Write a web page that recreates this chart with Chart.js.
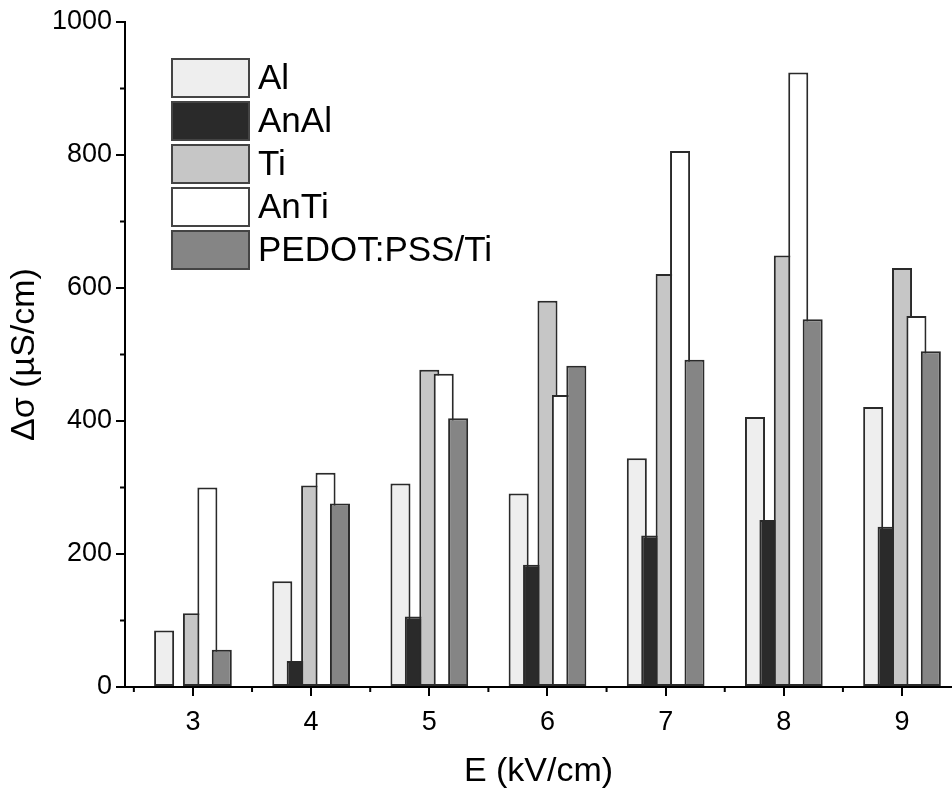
<!DOCTYPE html>
<html lang="en">
<head>
    <meta charset="UTF-8">
    <title>Conductivity change vs field</title>
    <script src="https://cdn.jsdelivr.net/npm/chart.js"></script>
    <style>
        body { margin: 0; background: #fff; }
    </style>
</head>
<body>
    <canvas id="barChart" width="952" height="792"></canvas>

    <script>
        // field strength (kV/cm) and delta sigma (uS/cm) per sample
        const fields = [3, 4, 5, 6, 7, 8, 9];
        const al     = [85, 159, 306, 291, 344, 406, 421];
        const anAl   = [null, 39, 106, 184, 228, 251, 241];
        const ti     = [111, 303, 477, 581, 621, 649, 630];
        const anTi   = [300, 322, 471, 439, 806, 924, 558];
        const pedot  = [56, 276, 404, 483, 492, 553, 505];
        const yTicks = [0, 200, 400, 600, 800, 1000];

        const FONT = '"Liberation Sans", Arial, sans-serif';
        const EDGE = '#2a2a2a';

        function series(label, vals, fill) {
            return {
                label: label,
                data: fields.map((e, i) => ({ x: e, y: vals[i] })),
                backgroundColor: fill,
                borderColor: EDGE,
                borderWidth: 2,
                borderSkipped: false,
                barPercentage: 1.39,
                categoryPercentage: 0.61
            };
        }

        // draw datasets first-to-last so later bars overlap earlier ones
        const forwardOrder = {
            id: 'forwardOrder',
            beforeDatasetsDraw(chart) {
                const ctx = chart.ctx, a = chart.chartArea;
                ctx.save();
                ctx.beginPath();
                ctx.rect(a.left, a.top - 2, a.right - a.left, a.bottom - a.top + 2);
                ctx.clip();
                chart.data.datasets.forEach((ds, i) => chart.getDatasetMeta(i).controller.draw());
                ctx.restore();
                return false;
            }
        };

        // minor ticks + legend box
        const extras = {
            id: 'extras',
            afterDraw(chart) {
                const ctx = chart.ctx;
                const xs = chart.scales.x, ys = chart.scales.y;
                ctx.save();
                ctx.strokeStyle = '#000';
                ctx.lineWidth = 2;
                ctx.beginPath();
                [fields[0] - 1].concat(fields).forEach(v => {
                    const px = xs.getPixelForValue(v + 0.5);
                    if (px > xs.right) return;
                    ctx.moveTo(px, xs.top);
                    ctx.lineTo(px, xs.top + 5);
                });
                yTicks.slice(0, -1).forEach(v => {
                    const py = ys.getPixelForValue(v + 100);
                    ctx.moveTo(ys.right, py);
                    ctx.lineTo(ys.right - 5, py);
                });
                ctx.stroke();

                // legend
                const x0 = 172, y0 = 59, bw = 77, bh = 38, step = 43;
                ctx.font = '35px ' + FONT;
                ctx.textBaseline = 'middle';
                chart.data.datasets.forEach((ds, i) => {
                    const y = y0 + i * step;
                    ctx.fillStyle = ds.backgroundColor;
                    ctx.fillRect(x0, y, bw, bh);
                    ctx.lineWidth = 2;
                    ctx.strokeStyle = '#444';
                    ctx.strokeRect(x0, y, bw, bh);
                    ctx.fillStyle = '#000';
                    ctx.fillText(ds.label, x0 + bw + 9, y + bh / 2 + 1);
                });
                ctx.restore();
            }
        };

        const ctx = document.getElementById('barChart').getContext('2d');
        const chart = new Chart(ctx, {
            type: 'bar',
            data: {
                datasets: [
                    series('Al', al, '#eeeeee'),
                    series('AnAl', anAl, '#2a2a2a'),
                    series('Ti', ti, '#c6c6c6'),
                    series('AnTi', anTi, '#ffffff'),
                    series('PEDOT:PSS/Ti', pedot, '#858585')
                ]
            },
            plugins: [forwardOrder, extras],
            options: {
                responsive: false,
                animation: false,
                devicePixelRatio: 1,
                layout: { padding: { top: 22, right: 0, left: 0, bottom: 0 } },
                plugins: {
                    legend: { display: false },
                    tooltip: { enabled: false }
                },
                scales: {
                    x: {
                        type: 'linear',
                        min: 2.425,
                        max: 9.423,
                        offset: false,
                        z: 1,
                        afterBuildTicks: s => { s.ticks = fields.map(v => ({ value: v })); },
                        afterFit: s => { s.height = 105; },
                        grid: { offset: false, drawOnChartArea: false, tickLength: 9, lineWidth: 2, color: '#000' },
                        border: { display: true, width: 2, color: '#000' },
                        ticks: {
                            font: { family: FONT, size: 27 },
                            color: '#000',
                            padding: 10,
                            maxRotation: 0,
                            callback: v => String(v)
                        },
                        title: {
                            display: true,
                            text: 'E (kV/cm)',
                            font: { family: FONT, size: 34 },
                            color: '#000',
                            padding: { top: 0, bottom: 0 }
                        }
                    },
                    y: {
                        min: 0,
                        max: 1000,
                        z: 1,
                        afterBuildTicks: s => { s.ticks = yTicks.map(v => ({ value: v })); },
                        afterFit: s => { s.width = 125; },
                        grid: { drawOnChartArea: false, tickLength: 9, lineWidth: 2, color: '#000' },
                        border: { display: true, width: 2, color: '#000' },
                        ticks: {
                            font: { family: FONT, size: 27 },
                            color: '#000',
                            padding: 4,
                            callback: v => String(v)
                        },
                        title: {
                            display: true,
                            text: 'Δσ (µS/cm)',
                            font: { family: FONT, size: 34 },
                            color: '#000',
                            padding: { top: 4, bottom: 0 }
                        }
                    }
                }
            }
        });
    </script>
</body>
</html>
